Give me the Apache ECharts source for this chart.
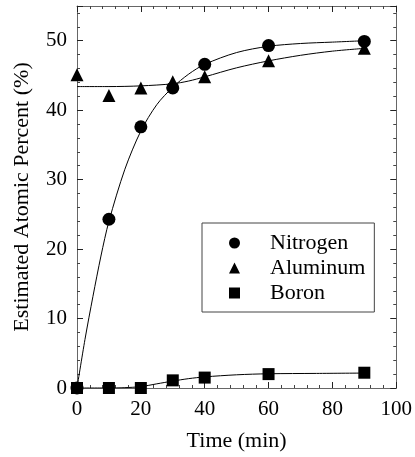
<!DOCTYPE html>
<html>
<head>
<meta charset="utf-8">
<script src="https://cdn.jsdelivr.net/npm/echarts@6/dist/echarts.min.js"></script>
<style>
  html, body { margin: 0; padding: 0; background: #fff; }
  #chart { width: 415px; height: 457px; }
</style>
</head>
<body>
<div id="chart"></div>
<script>
// measured points
var times = [0, 10, 20, 30, 40, 60, 90];
var nitrogen = [0, 24.3, 37.6, 43.2, 46.6, 49.3, 49.9];
var aluminum = [45.1, 42.1, 43.2, 44.1, 44.8, 47.1, 48.9];
var boron = [0, 0, 0, 1.1, 1.5, 2.0, 2.2];

// fitted curves
var nitrogenFitX = [0, 2.5, 5, 7.5, 10, 15, 20, 25, 30, 35, 40, 50, 60, 70, 80, 90];
var nitrogenFitY = [0, 7, 13.2, 19, 24, 31.5, 37, 40.8, 43.3, 45.2, 46.6, 48.3, 49.2, 49.6, 49.8, 50];
var aluminumFitX = [0, 10, 20, 30, 35, 40, 50, 60, 70, 80, 90];
var aluminumFitY = [43.4, 43.4, 43.5, 43.8, 44.2, 44.8, 46.1, 47.1, 47.9, 48.5, 48.9];
var boronFitX = [0, 10, 15, 20, 25, 30, 35, 40, 50, 60, 75, 90];
var boronFitY = [0, 0, 0.05, 0.2, 0.6, 1.0, 1.35, 1.6, 1.9, 2.05, 2.1, 2.15];

var xTicks = [0, 20, 40, 60, 80, 100];
var yTicks = [0, 10, 20, 30, 40, 50];

function pairs(xs, ys) {
  return xs.map(function (x, i) { return [x, ys[i]]; });
}

var font = "Liberation Serif";
var frame = "#666";
var ink = "#000";

var chart = echarts.init(document.getElementById("chart"));

function tickBase() {
  return {
    axisLine: { show: true, onZero: false, lineStyle: { color: frame, width: 1 } },
    axisTick: { show: true, inside: true, length: 6, lineStyle: { color: "#222" } },
    minorTick: { show: true, splitNumber: 5, length: 3, lineStyle: { color: "#444" } },
    splitLine: { show: false }
  };
}

function xAxisDef(pos, labels) {
  return Object.assign({
    type: "value", position: pos, min: 0, max: 100, interval: 20,
    axisLabel: {
      show: labels, fontFamily: font, fontSize: 21, color: ink, margin: 11,
      formatter: function (v) { return xTicks.indexOf(v) >= 0 ? String(v) : ""; }
    },
    name: labels ? "Time (min)" : "",
    nameLocation: "middle", nameGap: 42,
    nameTextStyle: { fontFamily: font, fontSize: 22, color: ink }
  }, tickBase());
}

function yAxisDef(pos, labels) {
  return Object.assign({
    type: "value", position: pos, min: 0, max: 55, interval: 10,
    axisLabel: {
      show: labels, fontFamily: font, fontSize: 21, color: ink, margin: 10,
      formatter: function (v) { return yTicks.indexOf(v) >= 0 ? String(v) : ""; }
    },
    name: labels ? "Estimated Atomic Percent (%)" : "",
    nameLocation: "middle", nameGap: 44,
    nameTextStyle: { fontFamily: font, fontSize: 22, color: ink }
  }, tickBase());
}

function fitLine(name, xs, ys) {
  return {
    name: name, type: "line", data: pairs(xs, ys),
    showSymbol: false, symbol: "none", smooth: 0.3,
    lineStyle: { color: ink, width: 1 }, silent: true, z: 2
  };
}

function markers(name, ys, symbol, size) {
  return {
    name: name, type: "scatter", data: pairs(times, ys),
    symbol: symbol, symbolSize: size,
    itemStyle: { color: ink, opacity: 1 }, z: 3
  };
}

chart.setOption({
  animation: false,
  grid: { left: 77, right: 18, top: 6, bottom: 69 },
  xAxis: [xAxisDef("bottom", true), xAxisDef("top", false)],
  yAxis: [yAxisDef("left", true), yAxisDef("right", false)],
  legend: {
    orient: "vertical", left: 202, top: 223,
    data: ["Nitrogen", "Aluminum", "Boron"],
    borderColor: "#444", borderWidth: 1,
    padding: [9, 9, 8, 27], itemGap: 3,
    itemWidth: 11, itemHeight: 11,
    itemStyle: { opacity: 1 },
    textStyle: { fontFamily: font, fontSize: 22, color: ink, padding: [0, 0, 0, 25] }
  },
  series: [
    fitLine("nFit", nitrogenFitX, nitrogenFitY),
    fitLine("aFit", aluminumFitX, aluminumFitY),
    fitLine("bFit", boronFitX, boronFitY),
    markers("Nitrogen", nitrogen, "circle", 13),
    markers("Aluminum", aluminum, "triangle", 13),
    markers("Boron", boron, "rect", 12)
  ]
});
</script>
</body>
</html>
